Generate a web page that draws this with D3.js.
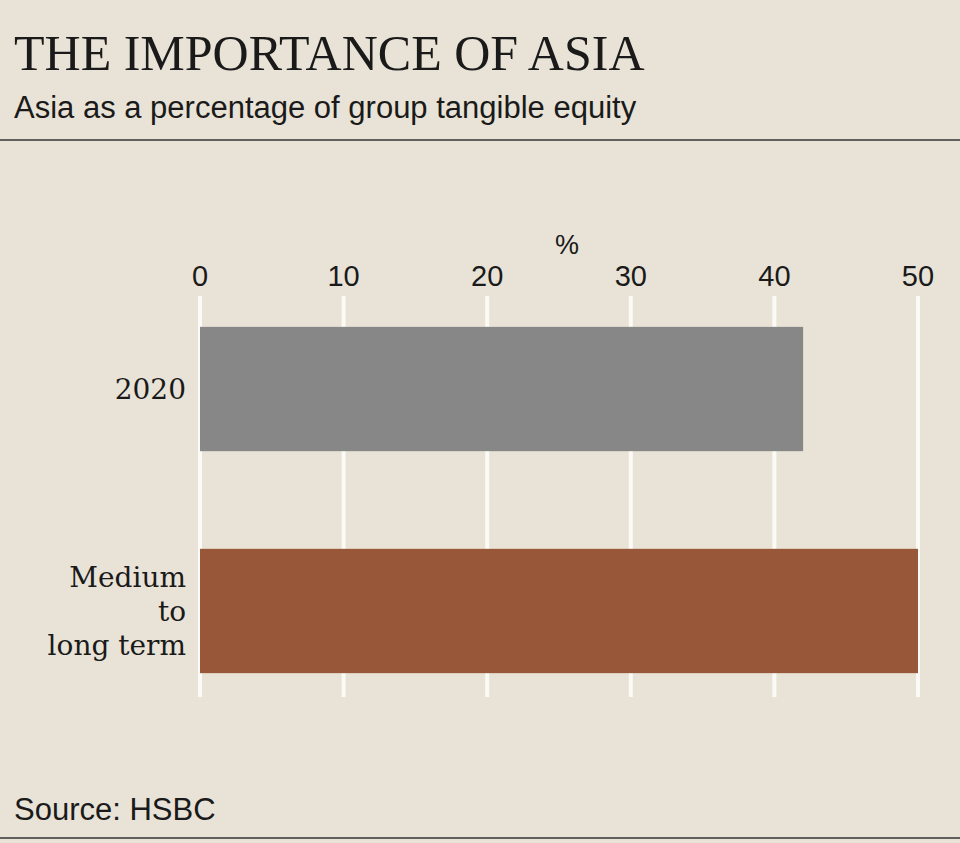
<!DOCTYPE html>
<html><head><meta charset="utf-8">
<script src="https://cdn.jsdelivr.net/npm/d3@7"></script>
<style>body{margin:0;background:#e8e3d6}</style>
</head><body><div id="chart"></div>
<script>
const categories = [["2020"], ["Medium", "to", "long term"]];
const values = [42, 50];
const ticks = [0, 10, 20, 30, 40, 50];
const colours = ["#878787", "#975738"];

const W = 960, H = 843;
const svg = d3.select("#chart").append("svg").attr("width", W).attr("height", H);
svg.append("rect").attr("width", W).attr("height", H).attr("fill", "#e8e3d6");

svg.append("text").attr("x", 14).attr("y", 70).text("THE IMPORTANCE OF ASIA")
  .attr("font-family", "Liberation Serif, serif").attr("font-size", 50).attr("fill", "#1a1a1a");
svg.append("text").attr("x", 14).attr("y", 118).text("Asia as a percentage of group tangible equity")
  .attr("font-family", "Liberation Sans, sans-serif").attr("font-size", 31).attr("fill", "#1a1a1a");
svg.append("line").attr("x1", 0).attr("x2", W).attr("y1", 140).attr("y2", 140).attr("stroke", "#333").attr("stroke-width", 1.5);
svg.append("line").attr("x1", 0).attr("x2", W).attr("y1", 838).attr("y2", 838).attr("stroke", "#333").attr("stroke-width", 1.5);

const x = d3.scaleLinear().domain([0, 50]).range([200, 918]);
const y = d3.scaleBand().domain(d3.range(values.length)).range([298, 702]).paddingInner(0.44).paddingOuter(0.13);

svg.selectAll(".grid").data(ticks).join("line")
  .attr("x1", d => x(d)).attr("x2", d => x(d)).attr("y1", 296).attr("y2", 697)
  .attr("stroke", "#fbfaf6").attr("stroke-width", 4);

svg.selectAll(".tick").data(ticks).join("text")
  .attr("x", d => x(d)).attr("y", 286).attr("text-anchor", "middle").text(d => d)
  .attr("font-family", "Liberation Sans, sans-serif").attr("font-size", 29).attr("fill", "#1a1a1a");
svg.append("text").attr("x", 567).attr("y", 254).attr("text-anchor", "middle").text("%")
  .attr("font-family", "Liberation Sans, sans-serif").attr("font-size", 27).attr("fill", "#1a1a1a");

svg.selectAll(".bar").data(values).join("rect")
  .attr("x", x(0)).attr("y", (d, i) => y(i)).attr("width", d => x(d) - x(0)).attr("height", y.bandwidth())
  .attr("fill", (d, i) => colours[i]);

categories.forEach((lines, i) => {
  const cy = y(i) + y.bandwidth() / 2;
  const lh = 34;
  lines.forEach((t, k) => {
    svg.append("text").attr("x", 186).attr("y", cy + (k - (lines.length - 1) / 2) * lh + 10)
      .attr("text-anchor", "end").text(t)
      .attr("font-family", "DejaVu Serif, serif").attr("font-size", 28).attr("fill", "#1a1a1a");
  });
});

svg.append("text").attr("x", 14).attr("y", 820).text("Source: HSBC")
  .attr("font-family", "Liberation Sans, sans-serif").attr("font-size", 31).attr("fill", "#1a1a1a");
</script></body></html>
